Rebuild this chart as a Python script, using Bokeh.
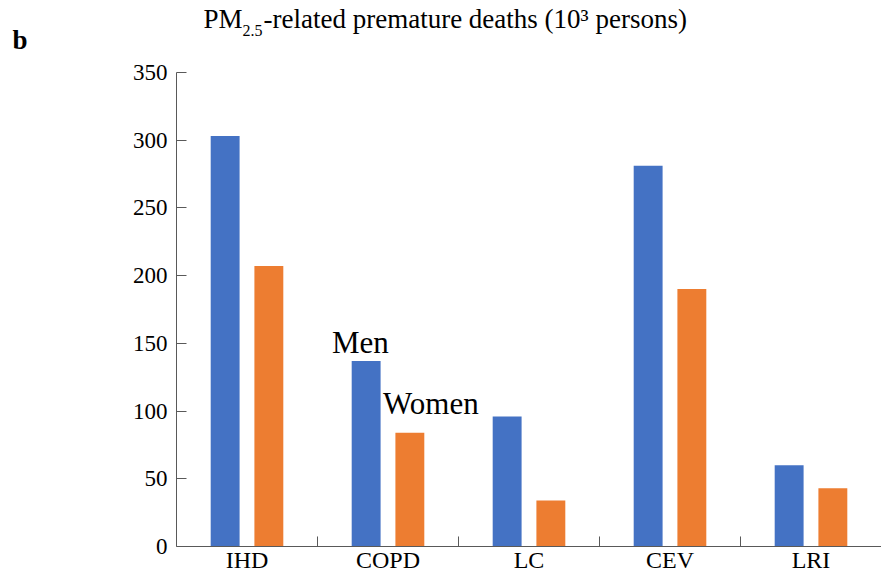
from bokeh.plotting import figure
from bokeh.models import Range1d, FactorRange, ColumnDataSource, FixedTicker, LinearAxis
from bokeh.transform import dodge
from bokeh.core.properties import value
from bokeh.embed import file_html
from bokeh.resources import INLINE

# ---- data ----
categories = ["IHD", "COPD", "LC", "CEV", "LRI"]
men = [303, 137, 96, 281, 60]
women = [207, 84, 34, 190, 43]
series_names = ["Men", "Women"]
y_ticks = [0, 50, 100, 150, 200, 250, 300, 350]
title_main = "PM"
title_sub = "2.5"
title_rest = "-related premature deaths (10\u00b3 persons)"
panel_tag = "b"

BLUE = "#4472C4"
ORANGE = "#ED7D31"
AXIS = "#595959"
FONT = "Liberation Serif"

W, H = 881, 575
FRAME_LEFT = 176
FRAME_BOTTOM = 547   # pixel row of the x axis
CAT_W = (W - FRAME_LEFT) / len(categories)
Y_TOP = 350 * FRAME_BOTTOM / (FRAME_BOTTOM - 72)  # value at the top edge of the canvas


def cx(px):
    """pixel column -> categorical coordinate (offset from first category)"""
    return (categories[0], (px - FRAME_LEFT) / CAT_W - 0.5)


src = ColumnDataSource(dict(cat=categories, men=men, women=women))

p = figure(x_range=FactorRange(factors=categories), y_range=Range1d(0, Y_TOP),
           width=W, height=H, output_backend="svg", toolbar_location=None,
           min_border_left=FRAME_LEFT, min_border_right=0, min_border_top=0, min_border_bottom=0)
p.background_fill_color = "white"
p.border_fill_color = "white"
p.outline_line_color = None
p.xgrid.visible = False
p.ygrid.visible = False

# pixel rows for the title texts
p.extra_y_ranges = {"py": Range1d(FRAME_BOTTOM, 0)}

p.vbar(x=dodge("cat", -0.155, range=p.x_range), top="men", width=0.205, source=src,
       fill_color=BLUE, line_color=None)
p.vbar(x=dodge("cat", 0.155, range=p.x_range), top="women", width=0.205, source=src,
       fill_color=ORANGE, line_color=None)

# category separator ticks (inward)
sep_x = [(c, 0.5) for c in categories[:-1]]
p.segment(x0=sep_x, y0=[0] * len(sep_x), x1=sep_x, y1=[7.4] * len(sep_x),
          line_color=AXIS, line_width=1)

# axes
p.yaxis.ticker = FixedTicker(ticks=y_ticks)
p.yaxis.bounds = (0, 350)
p.yaxis.minor_tick_line_color = None
p.yaxis.major_tick_in = 10
p.yaxis.major_tick_out = 0
p.yaxis.major_tick_line_color = AXIS
p.yaxis.axis_line_color = AXIS
p.yaxis.major_label_standoff = 9
p.yaxis.major_label_text_font = FONT
p.yaxis.major_label_text_font_size = "23px"
p.yaxis.major_label_text_color = "black"

p.xaxis.major_tick_line_color = None
p.xaxis.major_tick_in = 0
p.xaxis.major_tick_out = 0
p.xaxis.minor_tick_line_color = None
p.xaxis.axis_line_color = AXIS
p.xaxis.major_label_standoff = 0
p.xaxis.major_label_text_font = FONT
p.xaxis.major_label_text_font_size = "24px"
p.xaxis.major_label_text_color = "black"

# panel tag "b": an outer left axis carrying one bold label
tag_row = 40
tag_axis = LinearAxis(y_range_name="py", ticker=FixedTicker(ticks=[tag_row]),
                      major_label_overrides={tag_row: panel_tag},
                      axis_line_color=None, major_tick_line_color=None,
                      minor_tick_line_color=None, major_tick_in=0, major_tick_out=0,
                      major_label_standoff=102, major_label_text_font=FONT,
                      major_label_text_font_size="27px", major_label_text_font_style="bold",
                      major_label_text_color="black")
p.add_layout(tag_axis, "left")

# in-plot series labels
p.text(x=[("COPD", -0.397), ("COPD", -0.035)], y=[150.7, 105.6], text=series_names,
       text_font=value(FONT), text_font_size="31px", text_baseline="alphabetic",
       text_align="left", text_color="black")

# title
sub_left = 242
p.text(x=[cx(sub_left)], y=[19], text=[title_main], text_font=value(FONT), text_font_size="27px",
       text_align="right", text_baseline="alphabetic", text_color="black", y_range_name="py")
p.text(x=[cx(sub_left)], y=[30], text=[title_sub], text_font=value(FONT), text_font_size="16px",
       text_align="left", text_baseline="alphabetic", text_color="black", y_range_name="py")
p.text(x=[cx(sub_left + 21)], y=[19], text=[title_rest], text_font=value(FONT),
       text_font_size="27px", text_align="left", text_baseline="alphabetic",
       text_color="black", y_range_name="py")

open("out.html", "w").write(file_html(p, INLINE))
